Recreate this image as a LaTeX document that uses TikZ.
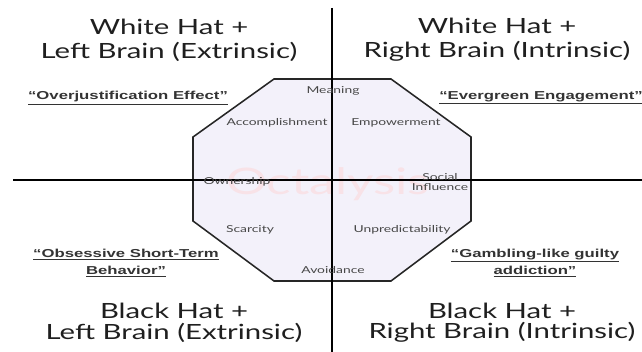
\documentclass[tikz,border=0pt]{standalone}
\usepackage{fontspec}
\setmainfont{Lato}
\newfontfamily\hatfont[FakeStretch=1.4]{Lato}
\newfontfamily\corefont[FakeStretch=1.45]{Lato}
\newfontfamily\mottofont[FakeStretch=1.45]{Liberation Sans}
\definecolor{octfill}{HTML}{F3F1FA}
\definecolor{octmark}{HTML}{F8E2E7}
\tikzset{
  hat/.style={align=center,inner sep=0pt,text=black!88,
    font=\hatfont\fontsize{14.9}{#1}\selectfont},
  hat/.default=17,
  motto/.style={align=center,inner sep=0pt,text=black!80,
    font=\mottofont\bfseries\fontsize{8.2}{12}\selectfont},
  core/.style={inner sep=0pt,align=center,text=black!72,
    font=\corefont\fontsize{6.8}{7.6}\selectfont},
}
\begin{document}
\begin{tikzpicture}[x=0.025cm,y=-0.025cm]
\useasboundingbox (0,0) rectangle (642,352);
% coordinates
\coordinate (T)  at (332,  8);%
\coordinate (B)  at (332,352);%
\coordinate (L)  at ( 13,180);%
\coordinate (R)  at (642,180);%
\coordinate (O1) at (274, 79);%
\coordinate (O2) at (391, 79);%
\coordinate (O3) at (471,137);%
\coordinate (O4) at (471,221);%
\coordinate (O5) at (391,281);%
\coordinate (O6) at (274,281);%
\coordinate (O7) at (193,221);%
\coordinate (O8) at (193,137);%
% octagon
\draw[line width=1.1pt,fill=octfill,draw=black!85]
  (O1) -- (O2) -- (O3) -- (O4) -- (O5) -- (O6) -- (O7) -- (O8) -- cycle;
\node (mark) at (328,184) [text=octmark,font=\hatfont\fontsize{26}{26}\selectfont] {Octalysis};
% axes
\draw[line width=1.4pt] (T) -- (B);
\draw[line width=1.4pt] (L) -- (R);
% core drives
\node[core] (meaning)  at (333, 91) {Meaning};
\node[core] (accompl)  at (277,123) {Accomplishment};
\node[core] (empower)  at (396,123) {Empowerment};
\node[core] (owner)    at (237,182) {Ownership};
\node[core] (social)   at (440,182) {Social\\Influence};
\node[core] (scarce)   at (250,230) {Scarcity};
\node[core] (unpred)   at (402,230) {Unpredictability};
\node[core] (avoid)    at (333,270) {Avoidance};
% quadrants
\node[hat]      (wl) at (169, 40) {White Hat +\\Left Brain (Extrinsic)};
\node[hat]      (wr) at (497, 40) {White Hat +\\Right Brain (Intrinsic)};
\node[hat=14.5] (bl) at (174,323) {Black Hat +\\Left Brain (Extrinsic)};
\node[hat=14.5] (br) at (502,323) {Black Hat +\\Right Brain (Intrinsic)};
% mottos
\node[motto] (overj) at (128, 98) {\underline{“Overjustification Effect”}};
\node[motto] (everg) at (541, 98) {\underline{“Evergreen Engagement”}};
\node[motto] (obses) at (126,263) {\underline{“Obsessive Short-Term}\\\underline{Behavior”}};
\node[motto] (gambl) at (535,263) {\underline{“Gambling-like guilty}\\\underline{addiction”}};
\end{tikzpicture}
\end{document}
